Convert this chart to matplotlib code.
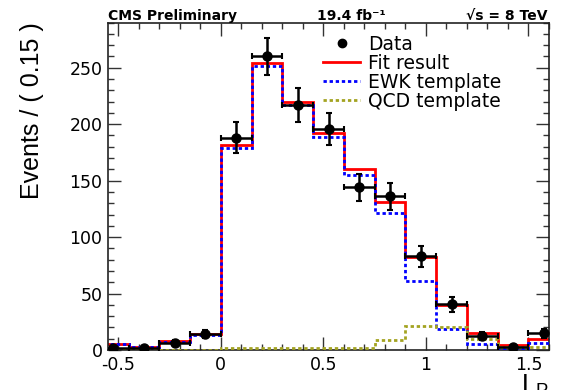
import numpy as np
import matplotlib
matplotlib.use("Agg")
import matplotlib.pyplot as plt
from matplotlib.lines import Line2D
from matplotlib.ticker import MultipleLocator

# ---- data ----
bin_edges = [-0.6, -0.45, -0.3, -0.15, 0.0, 0.15, 0.3, 0.45, 0.6, 0.75,
             0.9, 1.05, 1.2, 1.35, 1.5, 1.65]
bin_centers = [-0.525, -0.375, -0.225, -0.075, 0.075, 0.225, 0.375, 0.525,
               0.675, 0.825, 0.975, 1.125, 1.275, 1.425, 1.575]
data_counts = [2, 2, 6.5, 14, 188, 260, 217, 196, 144, 136, 83, 40.5, 12.4, 3, 14.8]
data_errors = [1.4, 1.4, 2.5, 3.7, 13.7, 16.1, 14.7, 14.0, 12.0, 11.7, 9.1, 6.4, 3.5, 1.7, 3.8]
fit_result = [5, 3, 8, 14, 182, 254, 220, 192, 160, 131, 82.7, 40, 15, 4.5, 9.5]
ewk_template = [5, 3, 7, 13, 179, 252, 217, 189, 155, 121, 61, 19, 5, 1, 6.5]
qcd_template = [0.3, 0.3, 0.3, 0.3, 1.5, 1.5, 1.5, 1.5, 1.5, 9, 21, 20, 10, 3, 3]

x_ticks = [-0.5, 0, 0.5, 1, 1.5]
x_tick_labels = ["-0.5", "0", "0.5", "1", "1.5"]
y_ticks = [0, 50, 100, 150, 200, 250]
legend_labels = ["Data", "Fit result", "EWK template", "QCD template"]

# ---- figure ----
W, H = 572, 390
fig = plt.figure(figsize=(W / 100, H / 100), dpi=100)
ax_l, ax_r, ax_t, ax_b = 108, 549, 22.6, 350
ax = fig.add_axes([ax_l / W, 1 - ax_b / H, (ax_r - ax_l) / W, (ax_b - ax_t) / H])

dot = (0, (1.2, 1.0))
ax.stairs(fit_result, bin_edges, color="#ff0000", lw=2.0, baseline=None, zorder=2)
ax.stairs(ewk_template, bin_edges, color="#0000ff", lw=2.0, ls=dot, baseline=None, zorder=3)
ax.stairs(qcd_template, bin_edges, color="#a3a321", lw=2.0, ls=dot, baseline=None, zorder=3)

ax.errorbar(bin_centers, data_counts, yerr=data_errors, xerr=0.075, fmt="o",
            color="black", ms=6.5, lw=1.8, capsize=2.5, capthick=1.5, zorder=5)

ax.set_xlim(-0.55, 1.6)
ax.set_ylim(0, 290)

ax.set_xticks(x_ticks)
ax.set_xticklabels(x_tick_labels)
ax.set_yticks(y_ticks)
ax.xaxis.set_minor_locator(MultipleLocator(0.1))
ax.yaxis.set_minor_locator(MultipleLocator(10))

for lab in ax.get_xticklabels() + ax.get_yticklabels():
    lab.set_fontfamily("DejaVu Sans")
    lab.set_fontsize(12.5)

ax.tick_params(which="both", direction="in", top=True, right=True, width=1.0, color="#333333")
ax.tick_params(which="major", length=9.4)
ax.tick_params(which="minor", length=4.3)
ax.tick_params(axis="y", which="major", pad=4)
ax.tick_params(axis="x", which="major", pad=4)
for s in ax.spines.values():
    s.set_linewidth(1.2)
    s.set_color("#222222")

ax.set_ylabel("Events / ( 0.15 )", family="Liberation Sans", fontsize=18, loc="top")
ax.yaxis.set_label_coords(-0.145, 1.0)
ax.set_xlabel(r"L$_{\mathregular{P}}$", family="Liberation Sans", fontsize=19, loc="right")
ax.xaxis.set_label_coords(1.0, -0.07)

# header texts
hdr = dict(family="DejaVu Sans", weight="bold", fontsize=10, va="baseline",
           transform=ax.transAxes)
ax.text(0.0, 1.008, "CMS Preliminary", ha="left", **hdr)
ax.text(0.474, 1.008, "19.4 fb\u207b\u00b9", ha="left", **hdr)
ax.text(0.997, 1.008, "\u221as = 8 TeV", ha="right", **hdr)

# legend
handles = [
    Line2D([], [], marker="o", ls="none", color="black", ms=6),
    Line2D([], [], color="#ff0000", lw=2.0),
    Line2D([], [], color="#0000ff", lw=2.0, ls=dot),
    Line2D([], [], color="#a3a321", lw=2.0, ls=dot),
]
leg = ax.legend(handles, legend_labels, loc="upper left", bbox_to_anchor=(0.4875, 0.962),
                frameon=False, borderpad=0, borderaxespad=0, handlelength=2.0,
                handletextpad=0.4, labelspacing=0.0,
                prop=dict(family="DejaVu Sans", size=13.5))

fig.savefig("out.png", dpi=100)
